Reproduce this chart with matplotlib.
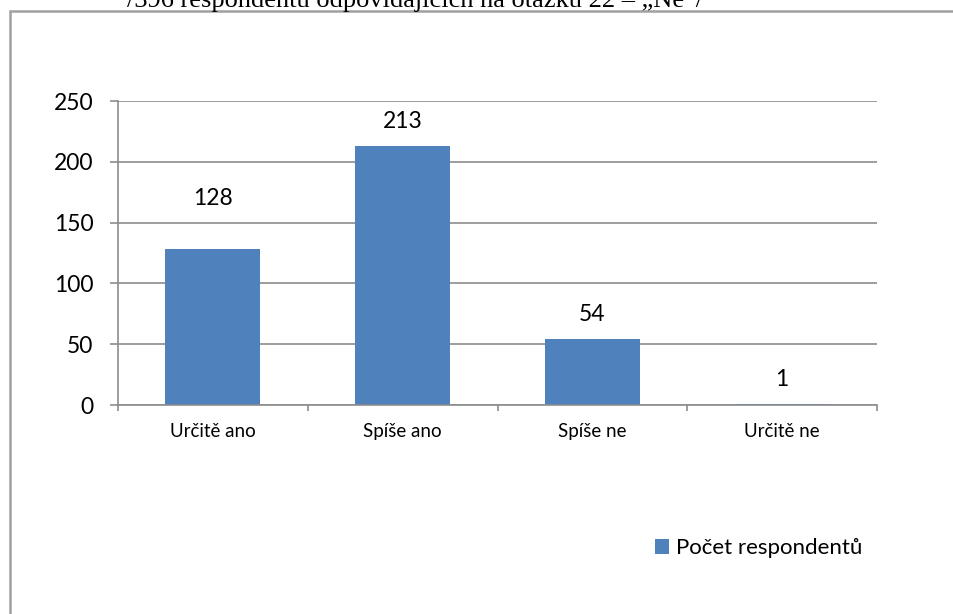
import numpy as np
import matplotlib.pyplot as plt
from matplotlib.patches import Rectangle
from matplotlib.ticker import FixedLocator

plt.rcParams['font.family'] = ['Lato', 'DejaVu Sans']

# data
categories = ['Určitě ano', 'Spíše ano', 'Spíše ne', 'Určitě ne']
counts = [128, 213, 54, 1]
series_name = 'Počet respondentů'
yticks = [0, 50, 100, 150, 200, 250]
# label offsets above bar (points)
label_offsets = [29, 10, 10, 10]

bar_color = '#4F81BD'
grid_color = '#8C8C8C'

fig = plt.figure(figsize=(9.54, 6.14), dpi=100)
W, H = 954, 614

# outer chart frame (runs off the right/bottom edges)
fig.patches.append(Rectangle((10 / W, -0.2), 1.2, 0.2 + (H - 11) / H,
                             transform=fig.transFigure, fill=False,
                             edgecolor='#A0A0A0', lw=1.8, zorder=0))

# cut-off caption line above the chart
fig.text(127 / W, 1 - 7 / H, '/396 respondentů odpovídajících na otázku 22 – „Ne“/',
         family='Liberation Serif', fontsize=19, va='baseline', ha='left')

ax = fig.add_axes([118 / W, (H - 405) / H, (877 - 118) / W, (405 - 101) / H])
x = np.arange(len(categories))
ax.bar(x, counts, width=0.5, color=bar_color, zorder=2, label=series_name)

for xi, v, off in zip(x, counts, label_offsets):
    ax.annotate(str(v), (xi, v), xytext=(0, off), textcoords='offset points',
                ha='center', va='bottom', fontsize=16.5)

ax.set_xlim(-0.5, len(categories) - 0.5)
ax.set_ylim(0, 250)
ax.set_yticks(yticks)
ax.set_xticks(x)
ax.set_xticklabels(categories, fontsize=13.5)
ax.xaxis.set_minor_locator(FixedLocator(np.arange(len(categories) + 1) - 0.5))
ax.tick_params(axis='x', which='major', length=0, pad=13)
ax.tick_params(axis='x', which='minor', length=4.5, width=1.2, color=grid_color)
ax.tick_params(axis='y', length=5.8, width=1.2, color=grid_color, pad=12, labelsize=16.5)

ax.grid(axis='y', color=grid_color, lw=1.2, zorder=1)
for s in ['top', 'right']:
    ax.spines[s].set_visible(False)
for s in ['left', 'bottom']:
    ax.spines[s].set_color(grid_color)
    ax.spines[s].set_linewidth(1.2)

fig.legend(loc='center left', bbox_to_anchor=(646 / W, 1 - 548 / H),
           frameon=False, fontsize=16, handlelength=0.65, handleheight=0.65,
           handletextpad=0.3, borderaxespad=0)

fig.savefig('out.png', dpi=100)
